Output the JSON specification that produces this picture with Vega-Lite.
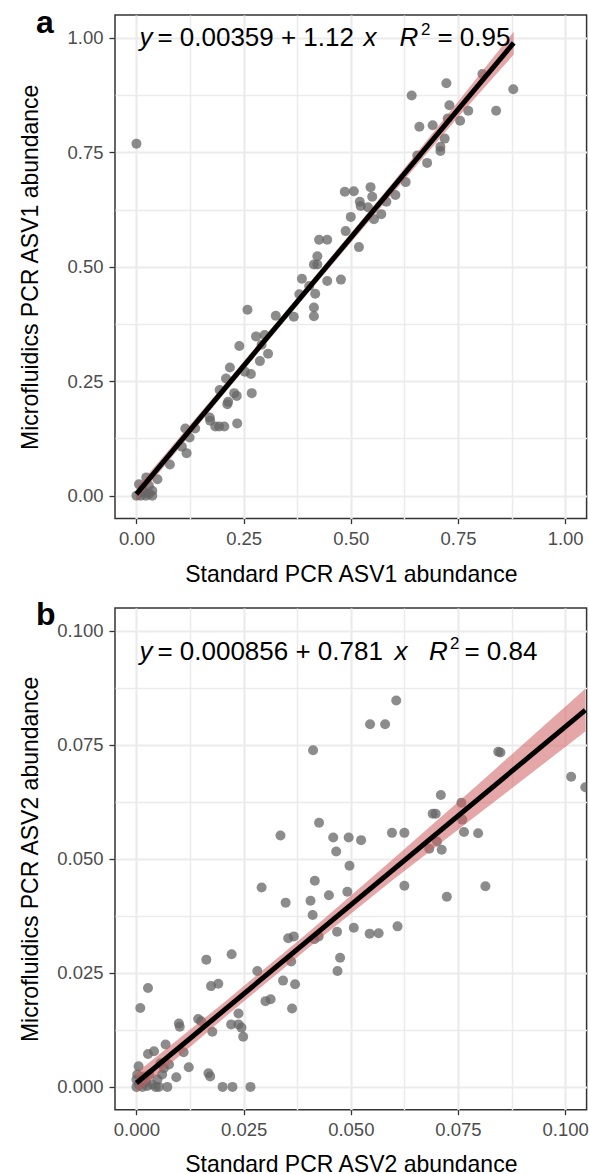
{
  "$schema": "https://vega.github.io/schema/vega-lite/v6.json",
  "background": "white",
  "padding": {"left": 19, "top": 5, "right": 0, "bottom": 0},
  "bounds": "flush",
  "config": {
    "view": {"stroke": "#333333", "strokeWidth": 1.5},
    "concat": {"spacing": 89},
    "font": "Liberation Sans",
    "axis": {
      "labelFont": "Liberation Sans", "titleFont": "Liberation Sans",
      "labelFontSize": 18.5, "titleFontSize": 23, "labelColor": "#4d4d4d", "titleColor": "#000000",
      "titleFontWeight": "normal", "tickColor": "#333333", "tickWidth": 1.3, "domain": false,
      "gridColor": "#ebebeb", "labelFlush": false, "labelOverlap": false, "labelBound": false,
      "titleBaseline": "alphabetic"
    },
    "axisX": {"tickSize": 5, "labelPadding": 6},
    "axisY": {"tickSize": 6, "labelPadding": 6}
  },
  "datasets": {
    "pointsA": [
      {"x":0,"y":0},{"x":0.010,"y":0.0},{"x":0.018,"y":0.007},{"x":0.029,"y":0.004},{"x":0.037,"y":0.011},{"x":0.037,"y":0.0},{"x":0.006,"y":0.025},{"x":0.014,"y":0.015},{"x":0.029,"y":0.022},{"x":0.022,"y":0.0},{"x":0.023,"y":0.040},{"x":0.049,"y":0.036},
      {"x":0.078,"y":0.068},{"x":0.106,"y":0.107},{"x":0.117,"y":0.093},{"x":0.124,"y":0.127},{"x":0.114,"y":0.147},{"x":0.137,"y":0.147},{"x":0.171,"y":0.171},{"x":0.172,"y":0.164},{"x":0.184,"y":0.151},{"x":0.193,"y":0.151},{"x":0.205,"y":0.151},{"x":0.235,"y":0.158},{"x":0.212,"y":0.200},{"x":0.214,"y":0.205},{"x":0.209,"y":0.256},{"x":0.194,"y":0.231},{"x":0.228,"y":0.224},{"x":0.234,"y":0.218},{"x":0.269,"y":0.224},{"x":0.218,"y":0.280},{"x":0.253,"y":0.271},{"x":0.267,"y":0.266},{"x":0.240,"y":0.327},{"x":0.279,"y":0.348},{"x":0.299,"y":0.351},{"x":0.292,"y":0.330},{"x":0.307,"y":0.310},{"x":0.288,"y":0.294},{"x":0.259,"y":0.406},{"x":0.325,"y":0.393},{"x":0.367,"y":0.391},{"x":0.414,"y":0.411},{"x":0.414,"y":0.392},
      {"x":0.723,"y":0.901},{"x":0.807,"y":0.921},{"x":0.879,"y":0.888},{"x":0.642,"y":0.874},{"x":0.730,"y":0.853},{"x":0.774,"y":0.841},{"x":0.839,"y":0.841},{"x":0.755,"y":0.819},{"x":0.726,"y":0.824},{"x":0.660,"y":0.806},{"x":0.691,"y":0.809},{"x":0.719,"y":0.780},{"x":0.709,"y":0.762},{"x":0.709,"y":0.753},{"x":0.655,"y":0.743},{"x":0.678,"y":0.727},{"x":0.628,"y":0.685},{"x":0.604,"y":0.657},{"x":0.583,"y":0.642},{"x":0.486,"y":0.664},{"x":0.507,"y":0.665},{"x":0.546,"y":0.674},{"x":0.550,"y":0.653},{"x":0.521,"y":0.642},{"x":0.523,"y":0.633},{"x":0.540,"y":0.630},{"x":0.571,"y":0.615},{"x":0.554,"y":0.604},{"x":0.500,"y":0.609},{"x":0.488,"y":0.578},{"x":0.519,"y":0.543},{"x":0.426,"y":0.559},{"x":0.445,"y":0.559},{"x":0.422,"y":0.523},{"x":0.414,"y":0.505},{"x":0.422,"y":0.505},{"x":0.477,"y":0.472},{"x":0.445,"y":0.469},{"x":0.386,"y":0.474},{"x":0.403,"y":0.458},{"x":0.417,"y":0.441},{"x":0.380,"y":0.440},
      {"x":0.0,"y":0.769}
    ],
    "bandA": [
      {"x":0.0,"lo":-0.0094,"hi":0.0166},
      {"x":0.2,"lo":0.2176,"hi":0.2376},
      {"x":0.4,"lo":0.4426,"hi":0.4606},
      {"x":0.6,"lo":0.6626,"hi":0.6866},
      {"x":0.75,"lo":0.8266,"hi":0.8606},
      {"x":0.88,"lo":0.9636,"hi":1.0136}
    ],
    "fitA": [{"x":0.0,"y":0.0036},{"x":0.88,"y":0.9892}],
    "eqA": [{"x":0,"y":0.9817,"t1":"y","t2":"= 0.00359 + 1.12","t3":"x","t4":"R","t5":"2","t6":"= 0.95"}],
    "tagA": [{"x":-0.2342,"y":1.0116,"tag":"a"}],
    "pointsB": [
      {"x":0.0606,"y":0.0847},{"x":0.0545,"y":0.0795},{"x":0.058,"y":0.0795},{"x":0.0412,"y":0.0738},{"x":0.0844,"y":0.0735},{"x":0.0849,"y":0.0733},{"x":0.1014,"y":0.068},{"x":0.1047,"y":0.0657},{"x":0.071,"y":0.064},{"x":0.0758,"y":0.0623},{"x":0.0691,"y":0.0599},{"x":0.0698,"y":0.0599},{"x":0.076,"y":0.0586},{"x":0.0426,"y":0.0579},{"x":0.0336,"y":0.0551},{"x":0.0459,"y":0.0547},{"x":0.0495,"y":0.0547},{"x":0.0524,"y":0.0541},{"x":0.0596,"y":0.0557},{"x":0.0625,"y":0.0557},{"x":0.0764,"y":0.0559},{"x":0.0797,"y":0.0556},{"x":0.0466,"y":0.0516},{"x":0.0683,"y":0.0522},{"x":0.0701,"y":0.0538},{"x":0.0712,"y":0.052},{"x":0.0497,"y":0.0485},{"x":0.0292,"y":0.0437},{"x":0.0416,"y":0.0452},{"x":0.0348,"y":0.0404},{"x":0.0406,"y":0.0408},{"x":0.0449,"y":0.042},{"x":0.0492,"y":0.0428},{"x":0.0625,"y":0.0441},{"x":0.0814,"y":0.044},{"x":0.0724,"y":0.0417},{"x":0.0411,"y":0.0377},{"x":0.0468,"y":0.034},{"x":0.0507,"y":0.0349},{"x":0.0544,"y":0.0336},{"x":0.0565,"y":0.0337},{"x":0.0609,"y":0.0352},{"x":0.0354,"y":0.0326},{"x":0.0367,"y":0.033},{"x":0.0415,"y":0.0324},{"x":0.0425,"y":0.033},
      {"x":0.0361,"y":0.0275},{"x":0.0342,"y":0.0233},{"x":0.037,"y":0.0225},{"x":0.0363,"y":0.0172},{"x":0.0475,"y":0.0283},{"x":0.0469,"y":0.0254},{"x":0.0301,"y":0.0188},{"x":0.0313,"y":0.0192},{"x":0.0282,"y":0.0254},{"x":0.0163,"y":0.0279},{"x":0.0222,"y":0.0291},{"x":0.0174,"y":0.0221},{"x":0.0191,"y":0.0226},{"x":0.0027,"y":0.0217},{"x":0.0009,"y":0.0173},{"x":0.0238,"y":0.0161},{"x":0.0221,"y":0.0137},{"x":0.0238,"y":0.0137},{"x":0.0245,"y":0.013},{"x":0.0249,"y":0.011},{"x":0.0144,"y":0.0149},{"x":0.0151,"y":0.0144},{"x":0.0099,"y":0.0139},{"x":0.0101,"y":0.0132},{"x":0.0177,"y":0.0121},{"x":0.0068,"y":0.0093},{"x":0.011,"y":0.0076},{"x":0.0041,"y":0.0078},{"x":0.0027,"y":0.0072},{"x":0.0122,"y":0.0043},{"x":0.0093,"y":0.0021},{"x":0.0168,"y":0.003},{"x":0.0172,"y":0.0023},{"x":0.0201,"y":0},{"x":0.0224,"y":0},{"x":0.0266,"y":0},{"x":0.0072,"y":0},{"x":0.0005,"y":0.0045},{"x":0.0076,"y":0.0049},{"x":0.0056,"y":0.0052},{"x":0.0064,"y":0.0041},
      {"x":0,"y":0},{"x":0.0006,"y":0.0005},{"x":0.0014,"y":0},{"x":0.0025,"y":0.0002},{"x":0.0037,"y":0.0005},{"x":0.0045,"y":0},{"x":0.0052,"y":0},{"x":0,"y":0.0016},{"x":0.0002,"y":0.0027},{"x":0.0022,"y":0.0012},{"x":0.003,"y":0.0027},{"x":0.0049,"y":0.0016},{"x":0.006,"y":0.0027},{"x":0.0018,"y":0.0023}
    ],
    "bandB": [
      {"x":0.0,"lo":-0.0013,"hi":0.0031},
      {"x":0.02,"lo":0.0148,"hi":0.0182},
      {"x":0.04,"lo":0.0304,"hi":0.0338},
      {"x":0.06,"lo":0.0455,"hi":0.0501},
      {"x":0.08,"lo":0.0600,"hi":0.0666},
      {"x":0.1047,"lo":0.0779,"hi":0.0873}
    ],
    "fitB": [{"x":0.0,"y":0.000856},{"x":0.1047,"y":0.0826}],
    "eqB": [{"x":0,"y":0.09356,"t1":"y","t2":"= 0.000856 + 0.781","t3":"x","t4":"R","t5":"2","t6":"= 0.84"}],
    "tagB": [{"x":-0.02342,"y":0.10134,"tag":"b"}]
  },
  "vconcat": [
    {
      "width": 471.6,
      "height": 503.6,
      "encoding": {
        "x": {"field": "x", "type": "quantitative", "scale": {"domain": [-0.05, 1.05], "nice": false, "zero": false},
          "axis": {"values": [0,0.125,0.25,0.375,0.5,0.625,0.75,0.875,1],
            "labelExpr": "abs(datum.value*4-round(datum.value*4))<0.001 ? format(datum.value,'.2f') : ''",
            "tickOpacity": {"condition": {"test": "abs(datum.value*4-round(datum.value*4))<0.001", "value": 1}, "value": 0},
            "gridWidth": {"condition": {"test": "abs(datum.value*4-round(datum.value*4))<0.001", "value": 2.2}, "value": 1.5},
            "title": "Standard PCR ASV1 abundance", "titleX": 235.8, "titleY": 62.4}},
        "y": {"field": "y", "type": "quantitative", "scale": {"domain": [-0.05, 1.05], "nice": false, "zero": false},
          "axis": {"values": [0,0.125,0.25,0.375,0.5,0.625,0.75,0.875,1],
            "labelExpr": "abs(datum.value*4-round(datum.value*4))<0.001 ? format(datum.value,'.2f') : ''",
            "tickOpacity": {"condition": {"test": "abs(datum.value*4-round(datum.value*4))<0.001", "value": 1}, "value": 0},
            "gridWidth": {"condition": {"test": "abs(datum.value*4-round(datum.value*4))<0.001", "value": 2.2}, "value": 1.5},
            "title": "Microfluidics PCR ASV1 abundance", "titleX": -77, "titleY": 251.8}}
      },
      "layer": [
        {"data": {"name": "pointsA"}, "mark": {"type": "circle", "size": 100, "color": "#666666", "opacity": 0.75}},
        {"data": {"name": "bandA"}, "mark": {"type": "area", "color": "#cd5c5c", "opacity": 0.55},
          "encoding": {
            "y": {"field": "lo", "type": "quantitative", "scale": {"domain": [-0.05, 1.05], "nice": false, "zero": false},
              "axis": {"values": [0,0.125,0.25,0.375,0.5,0.625,0.75,0.875,1],
                "labelExpr": "abs(datum.value*4-round(datum.value*4))<0.001 ? format(datum.value,'.2f') : ''",
                "tickOpacity": {"condition": {"test": "abs(datum.value*4-round(datum.value*4))<0.001", "value": 1}, "value": 0},
                "gridWidth": {"condition": {"test": "abs(datum.value*4-round(datum.value*4))<0.001", "value": 2.2}, "value": 1.5},
                "title": "Microfluidics PCR ASV1 abundance", "titleX": -77, "titleY": 251.8}},
            "y2": {"field": "hi"}}},
        {"data": {"name": "fitA"}, "mark": {"type": "line", "color": "#000000", "strokeWidth": 5}},
        {"data": {"name": "tagA"}, "mark": {"type": "text", "align": "left", "baseline": "alphabetic", "font": "Liberation Sans", "fontSize": 32, "fontWeight": "bold", "color": "#000000"}, "encoding": {"text": {"field": "tag"}}},
        {"data": {"name": "eqA"}, "mark": {"type": "text", "align": "left", "baseline": "alphabetic", "font": "Liberation Sans", "fontSize": 26, "fontStyle": "italic", "color": "#000000", "dx": 3}, "encoding": {"text": {"field": "t1"}}},
        {"data": {"name": "eqA"}, "mark": {"type": "text", "align": "left", "baseline": "alphabetic", "font": "Liberation Sans", "fontSize": 26, "color": "#000000", "dx": 21}, "encoding": {"text": {"field": "t2"}}},
        {"data": {"name": "eqA"}, "mark": {"type": "text", "align": "left", "baseline": "alphabetic", "font": "Liberation Sans", "fontSize": 26, "fontStyle": "italic", "color": "#000000", "dx": 227}, "encoding": {"text": {"field": "t3"}}},
        {"data": {"name": "eqA"}, "mark": {"type": "text", "align": "left", "baseline": "alphabetic", "font": "Liberation Sans", "fontSize": 26, "fontStyle": "italic", "color": "#000000", "dx": 263}, "encoding": {"text": {"field": "t4"}}},
        {"data": {"name": "eqA"}, "mark": {"type": "text", "align": "left", "baseline": "alphabetic", "font": "Liberation Sans", "fontSize": 17, "color": "#000000", "dx": 284.5, "dy": -11}, "encoding": {"text": {"field": "t5"}}},
        {"data": {"name": "eqA"}, "mark": {"type": "text", "align": "left", "baseline": "alphabetic", "font": "Liberation Sans", "fontSize": 26, "color": "#000000", "dx": 301}, "encoding": {"text": {"field": "t6"}}}
      ]
    },
    {
      "width": 471.6,
      "height": 501.7,
      "encoding": {
        "x": {"field": "x", "type": "quantitative", "scale": {"domain": [-0.005, 0.105], "nice": false, "zero": false},
          "axis": {"values": [0,0.0125,0.025,0.0375,0.05,0.0625,0.075,0.0875,0.1],
            "labelExpr": "abs(datum.value*40-round(datum.value*40))<0.001 ? format(datum.value,'.3f') : ''",
            "tickOpacity": {"condition": {"test": "abs(datum.value*40-round(datum.value*40))<0.001", "value": 1}, "value": 0},
            "gridWidth": {"condition": {"test": "abs(datum.value*40-round(datum.value*40))<0.001", "value": 2.2}, "value": 1.5},
            "title": "Standard PCR ASV2 abundance", "titleX": 235.8, "titleY": 62}},
        "y": {"field": "y", "type": "quantitative", "scale": {"domain": [-0.005, 0.105], "nice": false, "zero": false},
          "axis": {"values": [0,0.0125,0.025,0.0375,0.05,0.0625,0.075,0.0875,0.1],
            "labelExpr": "abs(datum.value*40-round(datum.value*40))<0.001 ? format(datum.value,'.3f') : ''",
            "tickOpacity": {"condition": {"test": "abs(datum.value*40-round(datum.value*40))<0.001", "value": 1}, "value": 0},
            "gridWidth": {"condition": {"test": "abs(datum.value*40-round(datum.value*40))<0.001", "value": 2.2}, "value": 1.5},
            "title": "Microfluidics PCR ASV2 abundance", "titleX": -77, "titleY": 250.85}}
      },
      "layer": [
        {"data": {"name": "pointsB"}, "mark": {"type": "circle", "size": 100, "color": "#666666", "opacity": 0.75, "clip": true}},
        {"data": {"name": "bandB"}, "mark": {"type": "area", "color": "#cd5c5c", "opacity": 0.55},
          "encoding": {
            "y": {"field": "lo", "type": "quantitative", "scale": {"domain": [-0.005, 0.105], "nice": false, "zero": false},
              "axis": {"values": [0,0.0125,0.025,0.0375,0.05,0.0625,0.075,0.0875,0.1],
                "labelExpr": "abs(datum.value*40-round(datum.value*40))<0.001 ? format(datum.value,'.3f') : ''",
                "tickOpacity": {"condition": {"test": "abs(datum.value*40-round(datum.value*40))<0.001", "value": 1}, "value": 0},
                "gridWidth": {"condition": {"test": "abs(datum.value*40-round(datum.value*40))<0.001", "value": 2.2}, "value": 1.5},
                "title": "Microfluidics PCR ASV2 abundance", "titleX": -77, "titleY": 250.85}},
            "y2": {"field": "hi"}}},
        {"data": {"name": "fitB"}, "mark": {"type": "line", "color": "#000000", "strokeWidth": 5}},
        {"data": {"name": "tagB"}, "mark": {"type": "text", "align": "left", "baseline": "alphabetic", "font": "Liberation Sans", "fontSize": 32, "fontWeight": "bold", "color": "#000000"}, "encoding": {"text": {"field": "tag"}}},
        {"data": {"name": "eqB"}, "mark": {"type": "text", "align": "left", "baseline": "alphabetic", "font": "Liberation Sans", "fontSize": 26, "fontStyle": "italic", "color": "#000000", "dx": 3}, "encoding": {"text": {"field": "t1"}}},
        {"data": {"name": "eqB"}, "mark": {"type": "text", "align": "left", "baseline": "alphabetic", "font": "Liberation Sans", "fontSize": 26, "color": "#000000", "dx": 21}, "encoding": {"text": {"field": "t2"}}},
        {"data": {"name": "eqB"}, "mark": {"type": "text", "align": "left", "baseline": "alphabetic", "font": "Liberation Sans", "fontSize": 26, "fontStyle": "italic", "color": "#000000", "dx": 258}, "encoding": {"text": {"field": "t3"}}},
        {"data": {"name": "eqB"}, "mark": {"type": "text", "align": "left", "baseline": "alphabetic", "font": "Liberation Sans", "fontSize": 26, "fontStyle": "italic", "color": "#000000", "dx": 292.5}, "encoding": {"text": {"field": "t4"}}},
        {"data": {"name": "eqB"}, "mark": {"type": "text", "align": "left", "baseline": "alphabetic", "font": "Liberation Sans", "fontSize": 17, "color": "#000000", "dx": 313.5, "dy": -11}, "encoding": {"text": {"field": "t5"}}},
        {"data": {"name": "eqB"}, "mark": {"type": "text", "align": "left", "baseline": "alphabetic", "font": "Liberation Sans", "fontSize": 26, "color": "#000000", "dx": 328}, "encoding": {"text": {"field": "t6"}}}
      ]
    }
  ]
}
